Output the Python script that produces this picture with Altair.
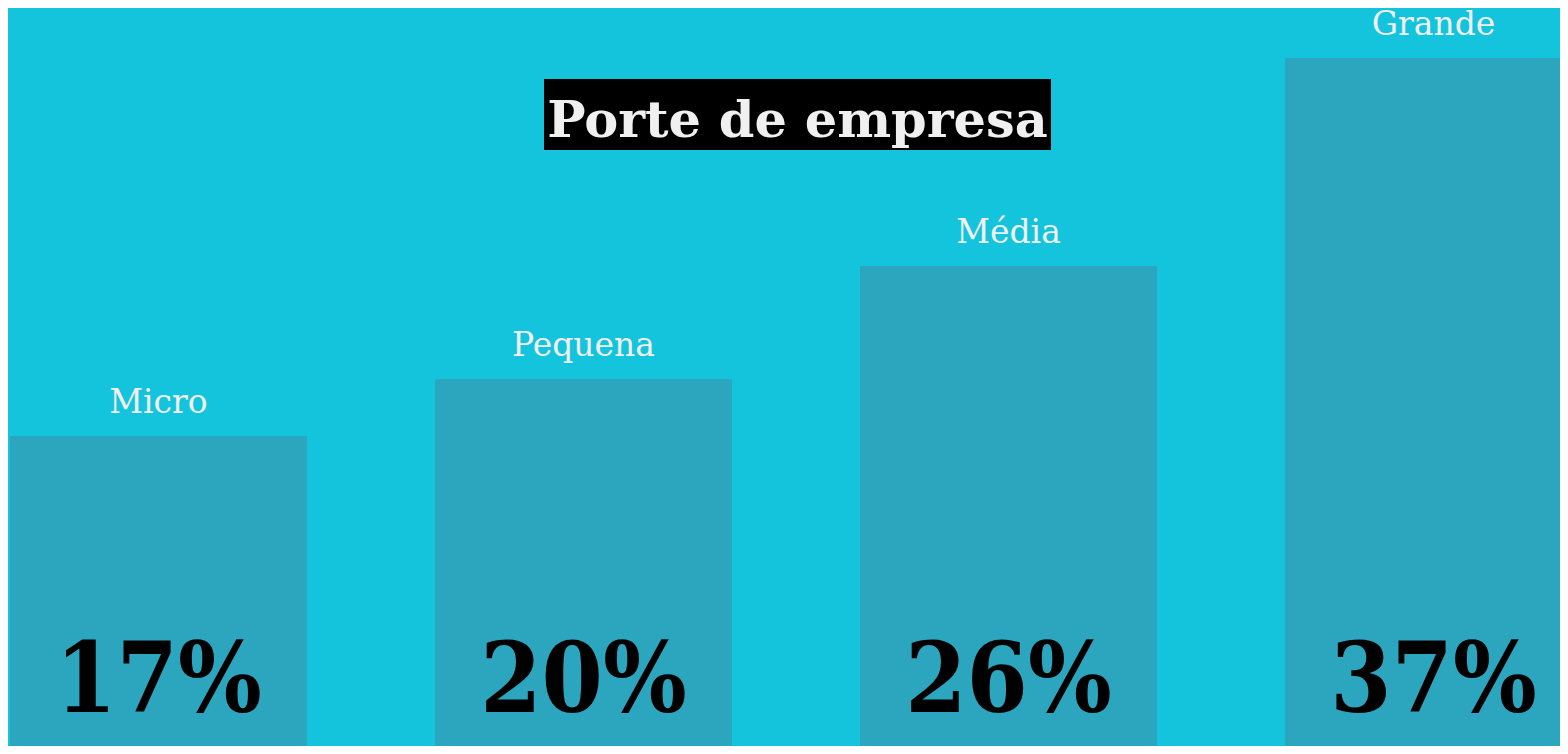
import altair as alt
import pandas as pd

categories = ["Micro", "Pequena", "Média", "Grande"]
values = [17, 20, 26, 37]
pct_labels = ["17%", "20%", "26%", "37%"]
title_text = "Porte de empresa"

df = pd.DataFrame({"cat": categories, "val": values, "pct": pct_labels})

BG = "#14C3DC"
BAR = "#2CA6BF"
LIGHT = "#F0F0F0"
FONT = "DejaVu Serif"

x = alt.X("cat:N", sort=categories, axis=None,
          scale=alt.Scale(range=[2, 1574], paddingInner=0.3012, paddingOuter=0))
y_scale = alt.Scale(domain=[0.6, 39.65], nice=False, zero=False)

base = alt.Chart(df)

bars = base.mark_bar(color=BAR).encode(
    x=x,
    y=alt.Y("val:Q", scale=y_scale, axis=None),
    y2=alt.datum(0),
)

cat_text = base.mark_text(color=LIGHT, font=FONT, fontSize=33, baseline="alphabetic", dy=-23).encode(
    x=x,
    y=alt.Y("val:Q", scale=y_scale, axis=None),
    text="cat:N",
)

pct_text = base.mark_text(color="#000000", font="DejaVu Serif Condensed", fontSize=98, fontWeight="bold",
                          baseline="alphabetic").encode(
    x=x,
    y=alt.value(704),
    text="pct:N",
)

title_df = pd.DataFrame({"t": [title_text]})
title_box = alt.Chart(title_df).mark_rect(color="#000000").encode(
    x=alt.value(536), x2=alt.value(1043), y=alt.value(71), y2=alt.value(142)
)
title_txt = alt.Chart(title_df).mark_text(color=LIGHT, font=FONT, fontSize=51, fontWeight="bold",
                                          baseline="alphabetic", align="center").encode(
    x=alt.value(789.5), y=alt.value(129), text="t:N"
)

chart = alt.layer(bars, cat_text, pct_text, title_box, title_txt).properties(
    width=1552, height=738, background=BG, padding=0,
    autosize=alt.AutoSizeParams(type="none"),
).configure_view(stroke=None)

chart.save("out.html", embed_options={"renderer": "svg", "actions": False})
